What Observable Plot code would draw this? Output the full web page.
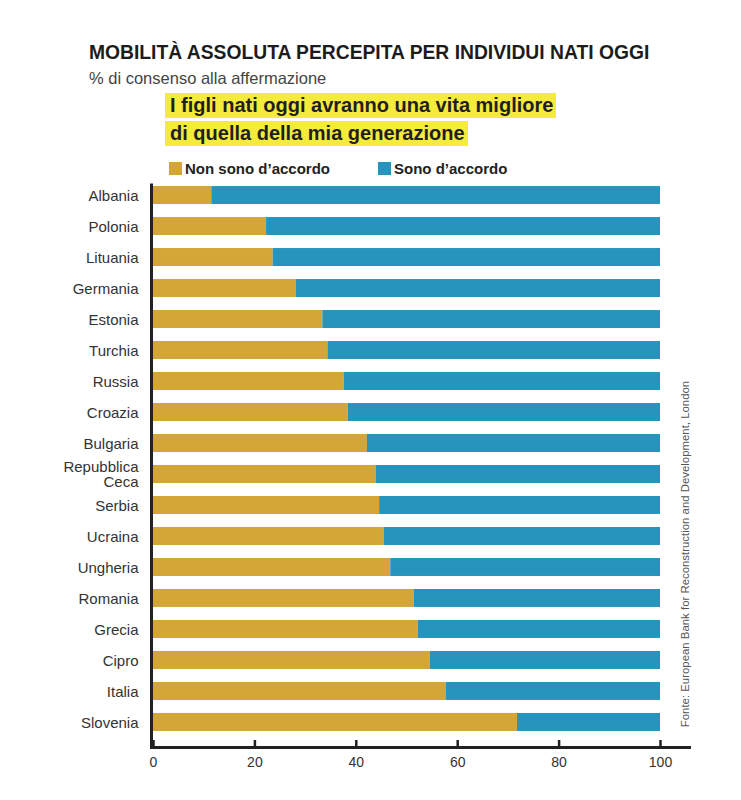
<!DOCTYPE html>
<html>
<head>
<meta charset="utf-8">
<script src="https://cdn.jsdelivr.net/npm/d3@7"></script>
<script src="https://cdn.jsdelivr.net/npm/@observablehq/plot@0.6"></script>
<style>
  body { margin: 0; background: #fff; font-family: "Liberation Sans", Arial, sans-serif; }
  #wrap { position: relative; width: 741px; height: 800px; overflow: hidden; }
  #title { position: absolute; left: 89px; top: 42px; font-size: 19.3px; line-height: 22px; font-weight: bold; color: #1c1c1c; white-space: nowrap; }
  #subtitle { position: absolute; left: 89px; top: 69px; font-size: 16.5px; line-height: 18px; color: #444; white-space: nowrap; }
  .hl { position: absolute; left: 165px; font-size: 20px; line-height: 25px; font-weight: bold; color: #1f1f1f; background: #f5eb3b; padding: 0 3px 0 5px; white-space: nowrap; }
  #hl1 { top: 93px; }
  #hl2 { top: 121px; }
  #legend { position: absolute; left: 169px; top: 160px; font-size: 15px; line-height: 18px; font-weight: bold; color: #222; white-space: nowrap; }
  .item { position: absolute; top: 0; white-space: nowrap; }
  .sw { display: inline-block; width: 13px; height: 13px; vertical-align: -1px; margin-right: 3px; }
  #chart { position: absolute; left: 0; top: 176px; }
  #source { position: absolute; left: 685px; top: 554px; transform: translate(-50%, -50%) rotate(-90deg); font-size: 11.4px; color: #555; white-space: nowrap; }
</style>
</head>
<body>
<div id="wrap">
  <div id="title">MOBILITÀ ASSOLUTA PERCEPITA PER INDIVIDUI NATI OGGI</div>
  <div id="subtitle">% di consenso alla affermazione</div>
  <div class="hl" id="hl1">I figli nati oggi avranno una vita migliore</div>
  <div class="hl" id="hl2">di quella della mia generazione</div>
  <div id="legend"></div>
  <div id="chart"></div>
  <div id="source">Fonte: European Bank for Reconstruction and Development, London</div>
</div>
<script>
const countries = ["Albania", "Polonia", "Lituania", "Germania", "Estonia", "Turchia", "Russia", "Croazia", "Bulgaria", "Repubblica Ceca", "Serbia", "Ucraina", "Ungheria", "Romania", "Grecia", "Cipro", "Italia", "Slovenia"];
const nonSonoDAccordo = [11.5, 22.3, 23.6, 28.2, 33.4, 34.4, 37.6, 38.4, 42.2, 43.9, 44.6, 45.5, 46.8, 51.4, 52.2, 54.6, 57.7, 71.8];
const sonoDAccordo = [88.5, 77.7, 76.4, 71.8, 66.6, 65.6, 62.4, 61.6, 57.8, 56.1, 55.4, 54.5, 53.2, 48.6, 47.8, 45.4, 42.3, 28.2];
const seriesNames = ["Non sono d’accordo", "Sono d’accordo"];
const seriesColors = ["#d4a537", "#2595bd"];
const xTicks = [0, 20, 40, 60, 80, 100];

const data = [];
countries.forEach((c, i) => {
  data.push({country: c, series: seriesNames[0], value: nonSonoDAccordo[i]});
  data.push({country: c, series: seriesNames[1], value: sonoDAccordo[i]});
});

// legend
const legend = document.getElementById("legend");
const legendX = [0, 209];
seriesNames.forEach((s, i) => {
  const it = document.createElement("div");
  it.className = "item";
  it.style.left = legendX[i] + "px";
  it.innerHTML = `<span class="sw" style="background:${seriesColors[i]}"></span>${s}`;
  legend.appendChild(it);
});

const chart = Plot.plot({
  width: 741,
  height: 601,
  marginLeft: 151,
  marginRight: 52,
  marginTop: 8.5,
  marginBottom: 30,
  style: {fontFamily: "'Liberation Sans', Arial, sans-serif", background: "transparent"},
  x: {domain: [0, 100], insetLeft: 2, insetRight: 29},
  y: {domain: countries, paddingInner: 0.42, paddingOuter: 0.05, insetBottom: 14.5, round: false},
  color: {domain: seriesNames, range: seriesColors},
  marks: [
    Plot.barX(data, Plot.stackX({x: "value", y: "country", fill: "series", order: seriesNames})),
    Plot.frame({anchor: "left", stroke: "#222", strokeWidth: 3}),
    Plot.frame({anchor: "bottom", stroke: "#222", strokeWidth: 3}),
    Plot.axisY({tickSize: 0, tickPadding: 13, fontSize: 15, fill: "#333", lineHeight: 1.05,
      tickFormat: d => d === "Repubblica Ceca" ? "Repubblica\nCeca" : d, label: null}),
    Plot.axisX({ticks: xTicks, tickSize: 7, dy: -7, text: null, stroke: "#222", strokeWidth: 2.5, label: null}),
    Plot.axisX({ticks: xTicks, tickSize: 0, tickPadding: 10, fontSize: 14, fill: "#333", label: null})
  ]
});
document.getElementById("chart").appendChild(chart);
</script>
</body>
</html>
